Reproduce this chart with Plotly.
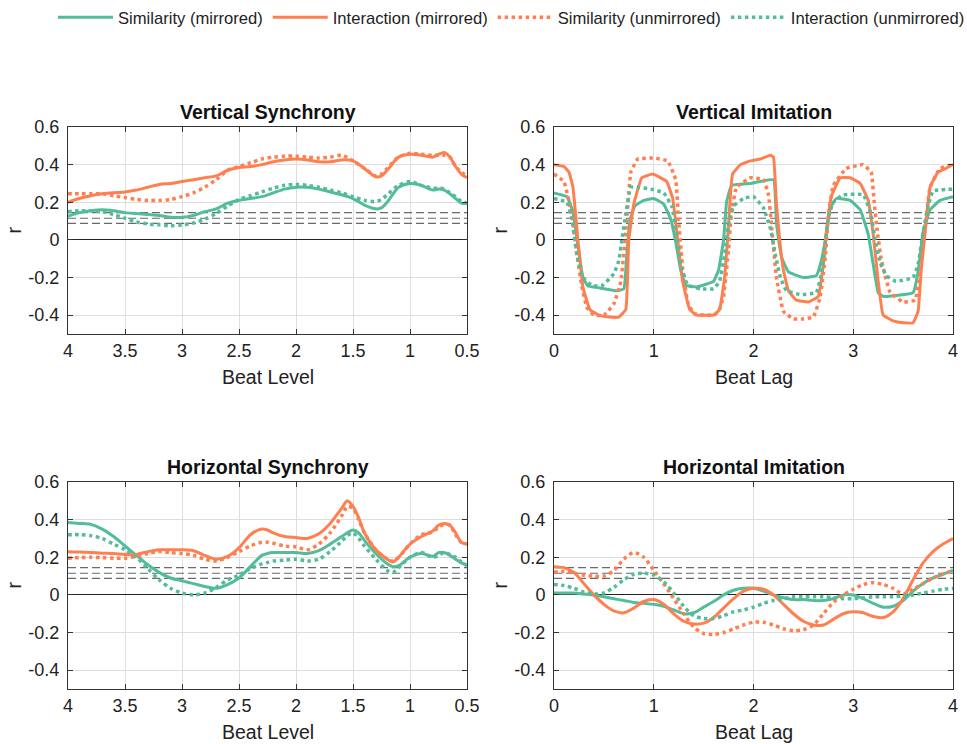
import plotly.graph_objects as go

# ---------------- colours / labels ----------------
GREEN = "#52BD98"
ORANGE = "#FF7F50"
SERIES_NAMES = ["Similarity (mirrored)", "Interaction (mirrored)",
                "Similarity (unmirrored)", "Interaction (unmirrored)"]
PANEL_TITLES = ["Vertical Synchrony", "Vertical Imitation",
                "Horizontal Synchrony", "Horizontal Imitation"]
Y_TICKS = [-0.4, -0.2, 0, 0.2, 0.4, 0.6]
Y_TICK_TEXT = ["-0.4", "-0.2", "0", "0.2", "0.4", "0.6"]
LEVEL_TICKS = [4, 3.5, 3, 2.5, 2, 1.5, 1, 0.5]
LEVEL_TICK_TEXT = ["4", "3.5", "3", "2.5", "2", "1.5", "1", "0.5"]
LAG_TICKS = [0, 1, 2, 3, 4]
LAG_TICK_TEXT = ["0", "1", "2", "3", "4"]
THRESHOLDS = [0.145, 0.115, 0.088]

# ---------------- Vertical Synchrony ----------------
VS_X = [4.0, 3.9, 3.8, 3.7, 3.6, 3.5, 3.4, 3.3, 3.2, 3.1, 3.0, 2.9, 2.8, 2.7, 2.6, 2.5, 2.4, 2.3, 2.2, 2.1,
        2.0, 1.9, 1.8, 1.7, 1.6, 1.5, 1.4, 1.3, 1.25, 1.2, 1.1, 1.0, 0.9, 0.8, 0.75, 0.7, 0.65, 0.6, 0.55, 0.5]
VS_SIM_MIR = [0.125, 0.145, 0.155, 0.16, 0.155, 0.145, 0.14, 0.135, 0.13, 0.12, 0.12, 0.13, 0.15, 0.165, 0.195,
              0.21, 0.22, 0.23, 0.25, 0.27, 0.28, 0.28, 0.27, 0.255, 0.24, 0.22, 0.185, 0.165, 0.17, 0.2, 0.28,
              0.30, 0.29, 0.265, 0.27, 0.265, 0.245, 0.22, 0.195, 0.195]
VS_INT_MIR = [0.20, 0.22, 0.235, 0.245, 0.25, 0.255, 0.265, 0.28, 0.295, 0.30, 0.31, 0.32, 0.33, 0.34, 0.37,
              0.385, 0.39, 0.40, 0.415, 0.425, 0.43, 0.425, 0.415, 0.415, 0.425, 0.42, 0.38, 0.335, 0.34, 0.37,
              0.44, 0.455, 0.45, 0.44, 0.455, 0.465, 0.44, 0.39, 0.35, 0.33]
VS_SIM_UNM = [0.245, 0.245, 0.245, 0.245, 0.235, 0.225, 0.215, 0.21, 0.21, 0.215, 0.23, 0.25, 0.28, 0.32, 0.37,
              0.39, 0.41, 0.43, 0.44, 0.445, 0.445, 0.44, 0.435, 0.44, 0.45, 0.42, 0.38, 0.34, 0.35, 0.38,
              0.44, 0.46, 0.455, 0.45, 0.45, 0.45, 0.44, 0.39, 0.36, 0.34]
VS_INT_UNM = [0.15, 0.155, 0.155, 0.15, 0.135, 0.115, 0.095, 0.085, 0.08, 0.075, 0.08, 0.09, 0.11, 0.14, 0.18,
              0.215, 0.235, 0.255, 0.275, 0.29, 0.295, 0.29, 0.28, 0.265, 0.25, 0.23, 0.21, 0.205, 0.215, 0.24,
              0.29, 0.31, 0.29, 0.275, 0.275, 0.27, 0.25, 0.23, 0.205, 0.195]

# ---------------- Horizontal Synchrony ----------------
HS_X = [4.0, 3.9, 3.8, 3.7, 3.6, 3.5, 3.4, 3.3, 3.2, 3.1, 3.0, 2.9, 2.8, 2.7, 2.6, 2.5, 2.4, 2.3, 2.25, 2.2,
        2.1, 2.0, 1.9, 1.8, 1.7, 1.6, 1.55, 1.5, 1.45, 1.4, 1.3, 1.2, 1.15, 1.1, 1.0, 0.9, 0.8, 0.75, 0.7,
        0.65, 0.6, 0.55, 0.5]
HS_SIM_MIR = [0.385, 0.38, 0.375, 0.35, 0.31, 0.26, 0.21, 0.16, 0.12, 0.09, 0.075, 0.06, 0.045, 0.035, 0.055,
              0.09, 0.15, 0.21, 0.22, 0.225, 0.225, 0.225, 0.22, 0.235, 0.27, 0.31, 0.33, 0.345, 0.33, 0.29,
              0.22, 0.165, 0.15, 0.155, 0.2, 0.22, 0.205, 0.225, 0.225, 0.21, 0.19, 0.17, 0.16]
HS_INT_MIR = [0.23, 0.228, 0.225, 0.222, 0.22, 0.215, 0.215, 0.23, 0.24, 0.24, 0.24, 0.235, 0.21, 0.19, 0.205,
              0.25, 0.32, 0.35, 0.345, 0.33, 0.31, 0.305, 0.30, 0.325, 0.38, 0.46, 0.5, 0.47, 0.41, 0.33,
              0.24, 0.19, 0.175, 0.2, 0.27, 0.31, 0.34, 0.37, 0.38, 0.37, 0.33, 0.28, 0.27]
HS_SIM_UNM = [0.195, 0.198, 0.2, 0.198, 0.195, 0.195, 0.205, 0.22, 0.23, 0.225, 0.22, 0.21, 0.19, 0.18, 0.2,
              0.23, 0.26, 0.28, 0.28, 0.275, 0.26, 0.255, 0.24, 0.27, 0.33, 0.42, 0.47, 0.46, 0.40, 0.33,
              0.24, 0.19, 0.18, 0.2, 0.27, 0.32, 0.335, 0.36, 0.375, 0.37, 0.32, 0.28, 0.27]
HS_INT_UNM = [0.32, 0.32, 0.315, 0.30, 0.27, 0.24, 0.2, 0.14, 0.08, 0.035, 0.01, 0.0, 0.01, 0.04, 0.08,
              0.105, 0.14, 0.165, 0.172, 0.18, 0.185, 0.19, 0.18, 0.19, 0.23, 0.285, 0.315, 0.33, 0.30, 0.26,
              0.19, 0.13, 0.12, 0.145, 0.2, 0.225, 0.2, 0.21, 0.225, 0.215, 0.2, 0.175, 0.155]

# ---------------- Vertical Imitation ----------------
VI_SIM_MIR_X = [0, 0.13, 0.19, 0.24, 0.29, 0.34, 0.46, 0.63, 0.7, 0.73, 0.76, 0.81, 0.9, 1.0, 1.1, 1.17, 1.22,
                1.27, 1.32, 1.43, 1.6, 1.65, 1.7, 1.73, 1.78, 1.97, 2.2, 2.23, 2.28, 2.35, 2.5, 2.63, 2.68,
                2.72, 2.77, 2.83, 2.97, 3.07, 3.15, 3.2, 3.25, 3.3, 3.6, 3.65, 3.7, 3.77, 3.87, 4.0]
VI_SIM_MIR = [0.25, 0.23, 0.15, -0.03, -0.2, -0.245, -0.255, -0.27, -0.26, -0.08, 0.1, 0.18, 0.21, 0.22, 0.19,
              0.11, -0.01, -0.16, -0.24, -0.25, -0.22, -0.16, 0.0, 0.2, 0.29, 0.30, 0.32, 0.09, -0.09, -0.17,
              -0.2, -0.19, -0.11, 0.0, 0.17, 0.22, 0.21, 0.16, 0.03, -0.13, -0.28, -0.30, -0.28, -0.17, 0.04,
              0.16, 0.21, 0.23]
VI_INT_MIR_X = [0, 0.1, 0.15, 0.19, 0.24, 0.29, 0.36, 0.45, 0.55, 0.65, 0.72, 0.75, 0.8, 0.88, 0.99, 1.13, 1.19,
                1.24, 1.29, 1.36, 1.43, 1.5, 1.6, 1.66, 1.71, 1.74, 1.79, 1.87, 1.97, 2.07, 2.17, 2.2, 2.23,
                2.27, 2.3, 2.35, 2.43, 2.55, 2.65, 2.7, 2.73, 2.78, 2.87, 2.97, 3.07, 3.15, 3.2, 3.25, 3.3,
                3.4, 3.5, 3.6, 3.65, 3.68, 3.72, 3.77, 3.85, 3.93, 4.0]
VI_INT_MIR = [0.40, 0.39, 0.36, 0.28, 0.0, -0.25, -0.37, -0.40, -0.41, -0.41, -0.37, 0.0, 0.19, 0.33, 0.35,
              0.31, 0.22, 0.0, -0.22, -0.37, -0.40, -0.40, -0.40, -0.37, -0.2, 0.0, 0.35, 0.40, 0.42, 0.43,
              0.45, 0.44, 0.19, -0.04, -0.16, -0.27, -0.32, -0.33, -0.30, -0.13, 0.04, 0.23, 0.33, 0.33, 0.30,
              0.21, 0.03, -0.22, -0.40, -0.43, -0.44, -0.44, -0.38, -0.17, 0.04, 0.28, 0.36, 0.38, 0.40]
VI_SIM_UNM_X = [0, 0.1, 0.18, 0.23, 0.28, 0.33, 0.4, 0.5, 0.6, 0.67, 0.72, 0.77, 0.84, 1.0, 1.14, 1.22, 1.25,
                1.29, 1.34, 1.4, 1.5, 1.6, 1.65, 1.7, 1.75, 1.78, 1.83, 1.97, 2.1, 2.15, 2.18, 2.23, 2.3, 2.4,
                2.5, 2.6, 2.67, 2.72, 2.75, 2.8, 2.93, 3.1, 3.18, 3.21, 3.24, 3.28, 3.37, 3.5, 3.62, 3.67,
                3.72, 3.77, 3.87, 4.0]
VI_SIM_UNM = [0.35, 0.31, 0.13, -0.08, -0.25, -0.36, -0.40, -0.40, -0.34, -0.22, 0.04, 0.36, 0.43, 0.435, 0.42,
              0.32, 0.1, -0.15, -0.33, -0.39, -0.40, -0.40, -0.38, -0.3, -0.05, 0.15, 0.28, 0.33, 0.32, 0.24,
              0.08, -0.2, -0.38, -0.42, -0.42, -0.41, -0.3, -0.09, 0.12, 0.29, 0.38, 0.40, 0.36, 0.2, 0.05,
              -0.1, -0.28, -0.33, -0.32, -0.17, 0.06, 0.28, 0.38, 0.40]
VI_INT_UNM_X = [0, 0.13, 0.18, 0.23, 0.29, 0.39, 0.49, 0.6, 0.65, 0.68, 0.72, 0.77, 0.84, 0.97, 1.1, 1.18, 1.22,
                1.27, 1.34, 1.47, 1.6, 1.66, 1.71, 1.75, 1.8, 1.9, 2.0, 2.1, 2.17, 2.22, 2.27, 2.33, 2.47, 2.63,
                2.68, 2.72, 2.75, 2.8, 2.9, 3.1, 3.17, 3.22, 3.27, 3.33, 3.43, 3.6, 3.65, 3.7, 3.75, 3.8, 4.0]
VI_INT_UNM = [0.22, 0.20, 0.11, -0.08, -0.2, -0.245, -0.24, -0.18, -0.11, 0.0, 0.14, 0.28, 0.28, 0.27, 0.25,
              0.18, 0.06, -0.13, -0.24, -0.26, -0.26, -0.22, -0.08, 0.08, 0.18, 0.22, 0.23, 0.17, 0.06, -0.08,
              -0.2, -0.27, -0.29, -0.28, -0.18, -0.02, 0.12, 0.2, 0.24, 0.24, 0.15, 0.0, -0.12, -0.19, -0.22,
              -0.2, -0.13, 0.04, 0.18, 0.26, 0.27]

# ---------------- Horizontal Imitation ----------------
HI_X = [0.0, 0.1, 0.2, 0.3, 0.4, 0.5, 0.6, 0.7, 0.8, 0.9, 1.0, 1.1, 1.2, 1.3, 1.4, 1.5, 1.6, 1.7, 1.8, 1.9, 2.0,
        2.1, 2.2, 2.3, 2.4, 2.5, 2.6, 2.7, 2.8, 2.9, 3.0, 3.1, 3.2, 3.3, 3.4, 3.5, 3.6, 3.7, 3.8, 3.9, 4.0]
HI_SIM_MIR = [0.01, 0.01, 0.01, 0.005, 0.0, -0.01, -0.02, -0.03, -0.04, -0.045, -0.05, -0.06, -0.08, -0.1,
              -0.095, -0.065, -0.035, 0.0, 0.025, 0.035, 0.035, 0.02, 0.0, -0.015, -0.025, -0.025, -0.03, -0.03,
              -0.02, 0.0, 0.0, -0.02, -0.045, -0.065, -0.06, -0.03, 0.02, 0.06, 0.09, 0.11, 0.13]
HI_INT_MIR = [0.15, 0.145, 0.12, 0.06, 0.0, -0.05, -0.085, -0.095, -0.07, -0.035, -0.025, -0.05, -0.1, -0.14,
              -0.155, -0.15, -0.12, -0.07, -0.02, 0.02, 0.035, 0.03, 0.0, -0.05, -0.1, -0.14, -0.16, -0.16,
              -0.13, -0.1, -0.09, -0.095, -0.115, -0.12, -0.09, -0.02, 0.08, 0.17, 0.23, 0.27, 0.30]
HI_SIM_UNM = [0.12, 0.125, 0.115, 0.105, 0.1, 0.1, 0.13, 0.19, 0.225, 0.2, 0.13, 0.06, -0.02, -0.1, -0.17,
              -0.205, -0.21, -0.2, -0.18, -0.16, -0.145, -0.145, -0.16, -0.18, -0.19, -0.185, -0.16, -0.1, -0.04,
              0.0, 0.03, 0.055, 0.065, 0.055, 0.035, 0.005, 0.03, 0.06, 0.09, 0.11, 0.13]
HI_INT_UNM = [0.055, 0.05, 0.035, 0.015, 0.005, 0.01, 0.04, 0.08, 0.11, 0.115, 0.105, 0.07, 0.01, -0.06, -0.11,
              -0.125, -0.125, -0.11, -0.09, -0.08, -0.065, -0.045, -0.03, -0.02, -0.01, -0.01, -0.01, -0.01,
              -0.015, -0.02, -0.02, -0.015, -0.01, -0.01, -0.01, -0.005, 0.0, 0.01, 0.02, 0.03, 0.035]

# ---------------- assemble ----------------
W, H = 967, 744
FONT = "Liberation Sans, Arial, Helvetica, sans-serif"

# plot-area boxes in pixels (left, right, top, bottom)
boxes = [(68, 467, 127, 334), (554, 953, 127, 334), (68, 467, 482, 689), (554, 953, 482, 689)]

panels = [
    dict(series=[(VS_X, VS_SIM_MIR), (VS_X, VS_INT_MIR), (VS_X, VS_SIM_UNM), (VS_X, VS_INT_UNM)],
         xrange=[4, 0.5], ticks=(LEVEL_TICKS, LEVEL_TICK_TEXT), xtitle="Beat Level", smooth=0.8),
    dict(series=[(VI_SIM_MIR_X, VI_SIM_MIR), (VI_INT_MIR_X, VI_INT_MIR),
                 (VI_SIM_UNM_X, VI_SIM_UNM), (VI_INT_UNM_X, VI_INT_UNM)],
         xrange=[0, 4], ticks=(LAG_TICKS, LAG_TICK_TEXT), xtitle="Beat Lag", smooth=0.3),
    dict(series=[(HS_X, HS_SIM_MIR), (HS_X, HS_INT_MIR), (HS_X, HS_SIM_UNM), (HS_X, HS_INT_UNM)],
         xrange=[4, 0.5], ticks=(LEVEL_TICKS, LEVEL_TICK_TEXT), xtitle="Beat Level", smooth=0.8),
    dict(series=[(HI_X, HI_SIM_MIR), (HI_X, HI_INT_MIR), (HI_X, HI_SIM_UNM), (HI_X, HI_INT_UNM)],
         xrange=[0, 4], ticks=(LAG_TICKS, LAG_TICK_TEXT), xtitle="Beat Lag", smooth=0.8),
]

styles = [(GREEN, "solid", 3), (ORANGE, "solid", 3), (ORANGE, "dot", 3.5), (GREEN, "dot", 3.5)]

fig = go.Figure()
layout = dict(width=W, height=H, margin=dict(l=0, r=0, t=0, b=0, autoexpand=False), autosize=False,
              paper_bgcolor="white", plot_bgcolor="white", template="none",
              font=dict(family=FONT, color="#222222"))
annotations = []

for i, (panel, box) in enumerate(zip(panels, boxes)):
    n = i + 1
    xa = "x" if n == 1 else f"x{n}"
    ya = "y" if n == 1 else f"y{n}"
    l, r, t, b = box
    layout[f"xaxis{'' if n == 1 else n}"] = dict(
        domain=[l / W, r / W], anchor=ya, range=panel["xrange"], automargin=False,
        tickmode="array", tickvals=panel["ticks"][0], ticktext=panel["ticks"][1],
        showgrid=True, gridcolor="#dedede", gridwidth=1, zeroline=False,
        showline=True, linecolor="#333333", linewidth=1, mirror="ticks",
        ticks="inside", ticklen=5, tickcolor="#333333",
        tickfont=dict(size=18, family=FONT, color="#222222"), ticklabelstandoff=0)
    layout[f"yaxis{'' if n == 1 else n}"] = dict(
        domain=[1 - b / H, 1 - t / H], anchor=xa, range=[-0.5, 0.6], automargin=False,
        tickmode="array", tickvals=Y_TICKS, ticktext=Y_TICK_TEXT,
        showgrid=True, gridcolor="#dedede", gridwidth=1,
        zeroline=True, zerolinecolor="#222222", zerolinewidth=1,
        showline=True, linecolor="#333333", linewidth=1, mirror="ticks",
        ticks="inside", ticklen=5, tickcolor="#333333",
        tickfont=dict(size=18, family=FONT, color="#222222"), ticklabelstandoff=4)

    # significance thresholds
    for thr in THRESHOLDS:
        fig.add_trace(go.Scatter(x=panel["xrange"], y=[thr, thr], mode="lines", xaxis=xa, yaxis=ya,
                                 line=dict(color="#6a6a6a", width=1.2, dash="8px,4px"),
                                 showlegend=False, hoverinfo="skip"))
    for k, ((xs, ys), (col, dash, lw)) in enumerate(zip(panel["series"], styles)):
        fig.add_trace(go.Scatter(x=xs, y=ys, mode="lines", xaxis=xa, yaxis=ya,
                                 name=SERIES_NAMES[k], legendgroup=SERIES_NAMES[k],
                                 showlegend=(i == 0),
                                 line=dict(color=col, dash=dash, width=lw, shape="spline",
                                           smoothing=panel["smooth"])))

    cx = (l + r) / 2 / W
    annotations.append(dict(text=f"<b>{PANEL_TITLES[i]}</b>", x=cx, y=1 - (t - 15) / H,
                            xref="paper", yref="paper", showarrow=False, xanchor="center",
                            yanchor="middle", font=dict(size=19.5, family=FONT, color="#111111")))
    annotations.append(dict(text=panel["xtitle"], x=cx, y=1 - (b + 43) / H, xref="paper", yref="paper",
                            showarrow=False, xanchor="center", yanchor="middle",
                            font=dict(size=19.5, family=FONT, color="#222222")))
    annotations.append(dict(text="r", x=(l - 55) / W, y=1 - (t + b) / 2 / H, xref="paper", yref="paper",
                            showarrow=False, xanchor="center", yanchor="middle", textangle=-90,
                            font=dict(size=19.5, family=FONT, color="#222222")))

layout["annotations"] = annotations
layout["legend"] = dict(orientation="h", x=53 / W, xanchor="left", y=1.0, yanchor="top",
                        xref="container", yref="container", itemwidth=55,
                        font=dict(size=16.6, family=FONT, color="#222222"),
                        bgcolor="rgba(0,0,0,0)")
fig.update_layout(**layout)
# drop the browser's default 8px body margin so the figure fills the window exactly
fig.write_html("out.html", config={"displayModeBar": False},
               post_script="document.body.style.margin='0px';")
